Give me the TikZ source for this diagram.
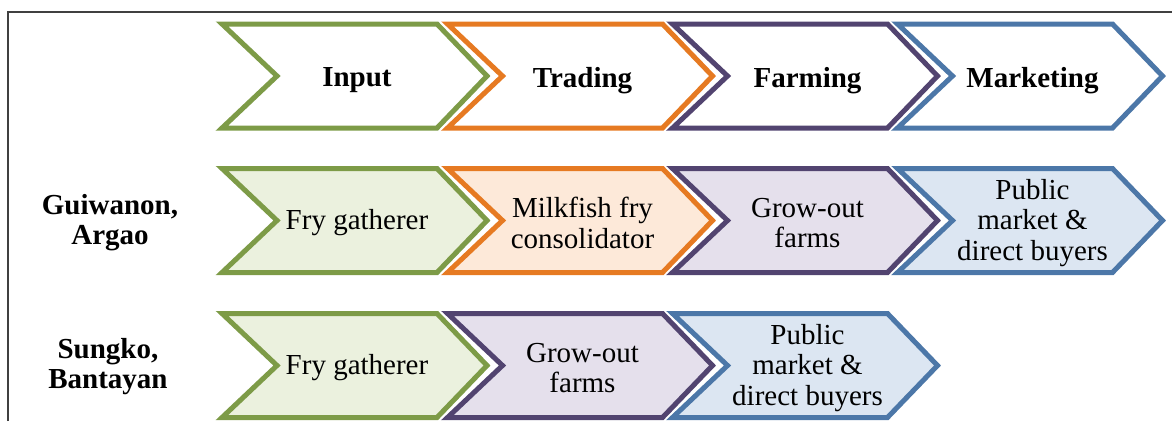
\documentclass[tikz,border=0pt]{standalone}
\usepackage{fontspec}
\setmainfont{Liberation Serif}
\definecolor{gS}{HTML}{7D9B47}
\definecolor{gF}{HTML}{EBF1DE}
\definecolor{oS}{HTML}{E67A22}
\definecolor{oF}{HTML}{FDE9D9}
\definecolor{pS}{HTML}{524470}
\definecolor{pF}{HTML}{E5E0EC}
\definecolor{bS}{HTML}{4C77A8}
\definecolor{bF}{HTML}{DCE6F2}
\newcommand\chevshape[6]{%
  \draw[chevline, draw=#3, fill=#4] (#1,#2-52) -- (#1+215,#2-52) -- (#1+265,#2) -- (#1+215,#2+52) -- (#1,#2+52) -- (#1+55,#2) -- cycle;
  \node[chevtext] (#5) at (#1+135,#2) {#6};
}
\begin{document}
\begin{tikzpicture}[x=1pt,y=-1pt,
  chevline/.style={line width=5pt, line join=miter},
  chevtext/.style={align=center, inner sep=0pt, yshift=-2.5pt, font=\fontsize{29}{30.5}\selectfont},
  headtext/.style={align=center, inner sep=0pt, yshift=-4.5pt, font=\fontsize{29}{31}\selectfont\bfseries},
  rowlabel/.style={align=center, inner sep=0pt, font=\fontsize{29}{30}\selectfont\bfseries},
  frameline/.style={draw=black!75, line width=2pt}]
\useasboundingbox (0,0) rectangle (1172,421);
\draw[frameline] (8,421) |- (1172,12);
% header row
\chevshape{222}{76}{gS}{white}{hinput}{}
\chevshape{447.5}{76}{oS}{white}{htrading}{}
\chevshape{672.5}{76}{pS}{white}{hfarming}{}
\chevshape{897.5}{76}{bS}{white}{hmarketing}{}
\node[headtext] (tinput) at (357,76) {Input};
\node[headtext] (ttrading) at (582.5,76) {Trading};
\node[headtext] (tfarming) at (807.5,76) {Farming};
\node[headtext] (tmarketing) at (1032.5,76) {Marketing};
% row 2
\node[rowlabel] (lguiwanon) at (110,223) {Guiwanon,\\Argao};
\chevshape{222}{220.5}{gS}{gF}{a1}{Fry gatherer}
\chevshape{447.5}{220.5}{oS}{oF}{a2}{Milkfish fry\\consolidator}
\chevshape{672.5}{220.5}{pS}{pF}{a3}{Grow-out\\farms}
\chevshape{897.5}{220.5}{bS}{bF}{a4}{Public\\market \&\\direct buyers}
% row 3
\node[rowlabel] (lsungko) at (108,367) {Sungko,\\Bantayan};
\chevshape{222}{365.5}{gS}{gF}{b1}{Fry gatherer}
\chevshape{447.5}{365.5}{pS}{pF}{b2}{Grow-out\\farms}
\chevshape{672.5}{365.5}{bS}{bF}{b3}{Public\\market \&\\direct buyers}
\end{tikzpicture}
\end{document}
